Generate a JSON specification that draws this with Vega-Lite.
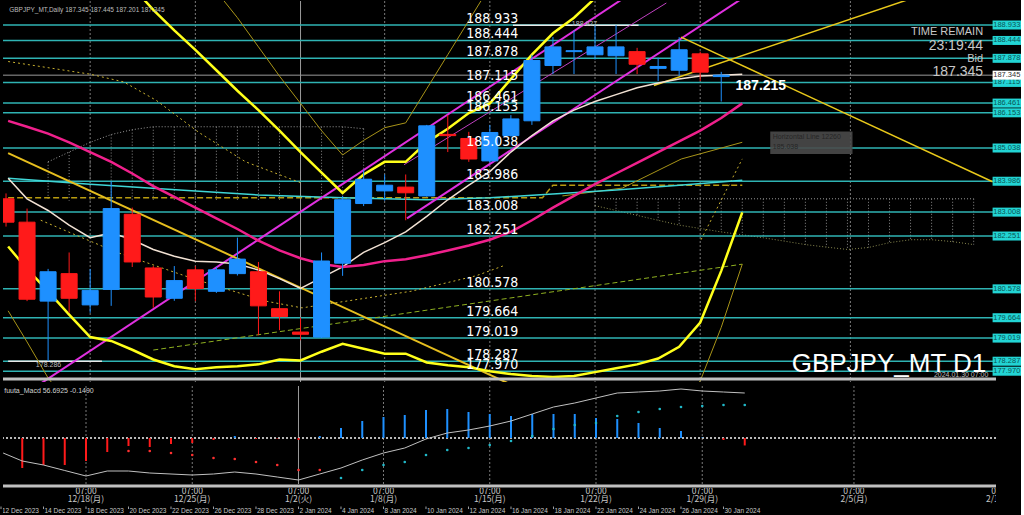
{
"$schema":"https://vega.github.io/schema/vega-lite/v6.json",
"background":"#000000",
"padding":0,
"bounds":"flush",
"spacing":4,
"config":{"view":{"stroke":null},"axis":{"labelColor":"#c8c8c8","labelFont":"Liberation Sans","labelFontSize":7.5,"domainColor":"#b0b0b0","tickColor":"#b0b0b0","tickSize":3,"labelPadding":2,"grid":false,"title":null}},
"datasets":{
"candles":[
{"i":-4,"o":183.43,"h":183.6,"l":182.55,"c":182.69},
{"i":-3,"o":182.69,"h":183.12,"l":180.19,"c":180.25},
{"i":-2,"o":180.19,"h":181.21,"l":178.29,"c":181.12},
{"i":-1,"o":181.06,"h":181.73,"l":179.82,"c":180.28},
{"i":0,"o":180.07,"h":181.21,"l":179.82,"c":180.53},
{"i":1,"o":180.56,"h":183.98,"l":180.04,"c":183.12},
{"i":2,"o":182.94,"h":183.15,"l":181.27,"c":181.43},
{"i":3,"o":181.24,"h":181.3,"l":179.98,"c":180.32},
{"i":4,"o":180.28,"h":181.3,"l":180.2,"c":180.84},
{"i":5,"o":181.18,"h":181.3,"l":180.19,"c":180.59},
{"i":6,"o":180.5,"h":181.27,"l":180.45,"c":181.18},
{"i":7,"o":181.06,"h":182.2,"l":181.0,"c":181.52},
{"i":8,"o":181.12,"h":181.43,"l":179.11,"c":180.04},
{"i":9,"o":179.95,"h":180.5,"l":179.27,"c":179.7},
{"i":10,"o":179.21,"h":179.67,"l":178.95,"c":179.14},
{"i":11,"o":179.05,"h":181.73,"l":179.02,"c":181.46},
{"i":12,"o":181.39,"h":183.52,"l":180.99,"c":183.4},
{"i":13,"o":183.28,"h":184.35,"l":183.2,"c":184.05},
{"i":14,"o":183.68,"h":184.2,"l":183.37,"c":183.86},
{"i":15,"o":183.8,"h":184.2,"l":182.75,"c":183.62},
{"i":16,"o":183.52,"h":185.77,"l":183.5,"c":185.74},
{"i":17,"o":185.47,"h":186.08,"l":184.91,"c":185.43},
{"i":18,"o":185.34,"h":185.55,"l":184.6,"c":184.69},
{"i":19,"o":184.63,"h":185.77,"l":184.58,"c":185.53},
{"i":20,"o":185.43,"h":186.08,"l":185.4,"c":185.96},
{"i":21,"o":185.9,"h":187.99,"l":185.77,"c":187.81},
{"i":22,"o":187.65,"h":188.55,"l":187.38,"c":188.24},
{"i":23,"o":188.09,"h":188.76,"l":187.38,"c":188.12},
{"i":24,"o":187.99,"h":188.927,"l":187.84,"c":188.24},
{"i":25,"o":187.96,"h":188.93,"l":187.38,"c":188.24},
{"i":26,"o":188.09,"h":188.21,"l":187.38,"c":187.69},
{"i":27,"o":187.56,"h":187.9,"l":187.16,"c":187.62},
{"i":28,"o":187.5,"h":188.55,"l":187.32,"c":188.15},
{"i":29,"o":188.02,"h":188.09,"l":187.16,"c":187.44},
{"i":30,"o":187.3,"h":187.45,"l":186.51,"c":187.345}
],
"levels":[
{"p":188.933,"t":"188.933"},{"p":188.444,"t":"188.444"},{"p":187.878,"t":"187.878"},{"p":187.115,"t":"187.115"},{"p":186.461,"t":"186.461"},{"p":186.153,"t":"186.153"},{"p":185.038,"t":"185.038"},{"p":183.986,"t":"183.986"},{"p":183.008,"t":"183.008"},{"p":182.251,"t":"182.251"},{"p":180.578,"t":"180.578"},{"p":179.664,"t":"179.664"},{"p":179.019,"t":"179.019"},{"p":178.287,"t":"178.287"},{"p":177.97,"t":"177.970"}
],
"seps":[{"i":0},{"i":5},{"i":10},{"i":14},{"i":19},{"i":24},{"i":29},{"i":36.14}],
"cloud":[
{"i":-2,"top":184.601,"bot":183.368},{"i":-1,"top":184.91,"bot":183.368},{"i":0,"top":185.218,"bot":183.368},{"i":1,"top":185.465,"bot":183.368},{"i":2,"top":185.619,"bot":183.368},{"i":3,"top":185.711,"bot":183.368},{"i":4,"top":185.711,"bot":183.368},{"i":5,"top":185.711,"bot":183.368},{"i":6,"top":185.711,"bot":183.368},{"i":7,"top":185.711,"bot":183.368},{"i":8,"top":185.711,"bot":183.368},{"i":9,"top":185.711,"bot":183.368},{"i":10,"top":185.711,"bot":183.368},{"i":11,"top":185.711,"bot":183.368},{"i":12,"top":185.711,"bot":183.368},{"i":13,"top":185.65,"bot":183.368}
],
"cloud2":[
{"i":24,"top":183.43,"bot":183.214},{"i":25,"top":183.43,"bot":183.06},{"i":26,"top":183.43,"bot":182.905},{"i":27,"top":183.43,"bot":182.75},{"i":28,"top":183.43,"bot":182.597},{"i":29,"top":183.43,"bot":182.49},{"i":30,"top":183.43,"bot":182.381},{"i":31,"top":183.43,"bot":182.29},{"i":32,"top":183.43,"bot":182.196},{"i":33,"top":183.43,"bot":182.09},{"i":34,"top":183.43,"bot":181.98},{"i":35,"top":183.43,"bot":181.9},{"i":36,"top":183.43,"bot":181.826},{"i":37,"top":183.43,"bot":181.888},{"i":38,"top":183.43,"bot":182.042},{"i":39,"top":183.43,"bot":182.134},{"i":40,"top":183.43,"bot":182.134},{"i":41,"top":183.43,"bot":182.073},{"i":42,"top":183.43,"bot":181.98}
],
"lines":[
{"s":"pink","i":-3.9,"p":185.896},{"s":"pink","i":-3,"p":185.711},{"s":"pink","i":-2,"p":185.496},{"s":"pink","i":-1,"p":185.218},{"s":"pink","i":0,"p":184.91},{"s":"pink","i":1,"p":184.601},{"s":"pink","i":2,"p":184.231},{"s":"pink","i":3,"p":183.83},{"s":"pink","i":4,"p":183.491},{"s":"pink","i":5,"p":183.152},{"s":"pink","i":6,"p":182.813},{"s":"pink","i":7,"p":182.474},{"s":"pink","i":8,"p":182.104},{"s":"pink","i":9,"p":181.795},{"s":"pink","i":10,"p":181.549},{"s":"pink","i":11,"p":181.364},{"s":"pink","i":12,"p":181.271},{"s":"pink","i":13,"p":181.333},{"s":"pink","i":14,"p":181.456},{"s":"pink","i":15,"p":181.518},{"s":"pink","i":16,"p":181.641},{"s":"pink","i":17,"p":181.795},{"s":"pink","i":18,"p":181.949},{"s":"pink","i":19,"p":182.134},{"s":"pink","i":20,"p":182.381},{"s":"pink","i":21,"p":182.751},{"s":"pink","i":22,"p":183.152},{"s":"pink","i":23,"p":183.522},{"s":"pink","i":24,"p":183.892},{"s":"pink","i":25,"p":184.231},{"s":"pink","i":26,"p":184.57},{"s":"pink","i":27,"p":184.91},{"s":"pink","i":28,"p":185.249},{"s":"pink","i":29,"p":185.588},{"s":"pink","i":30,"p":185.989},{"s":"pink","i":31,"p":186.451},
{"s":"white","i":-3.9,"p":184.077},{"s":"white","i":-3,"p":183.43},{"s":"white","i":-2,"p":183.06},{"s":"white","i":-1,"p":182.597},{"s":"white","i":0,"p":182.196},{"s":"white","i":1,"p":182.35},{"s":"white","i":2,"p":182.134},{"s":"white","i":3,"p":181.826},{"s":"white","i":4,"p":181.61},{"s":"white","i":5,"p":181.456},{"s":"white","i":6,"p":181.425},{"s":"white","i":7,"p":181.364},{"s":"white","i":8,"p":181.178},{"s":"white","i":9,"p":180.901},{"s":"white","i":10,"p":180.593},{"s":"white","i":11,"p":180.932},{"s":"white","i":12,"p":181.271},{"s":"white","i":13,"p":181.734},{"s":"white","i":14,"p":182.042},{"s":"white","i":15,"p":182.381},{"s":"white","i":16,"p":182.874},{"s":"white","i":17,"p":183.399},{"s":"white","i":18,"p":183.861},{"s":"white","i":19,"p":184.293},{"s":"white","i":20,"p":184.91},{"s":"white","i":21,"p":185.434},{"s":"white","i":22,"p":185.896},{"s":"white","i":23,"p":186.236},{"s":"white","i":24,"p":186.513},{"s":"white","i":25,"p":186.729},{"s":"white","i":26,"p":186.945},{"s":"white","i":27,"p":187.099},{"s":"white","i":28,"p":187.222},{"s":"white","i":29,"p":187.315},{"s":"white","i":30,"p":187.346},{"s":"white","i":31,"p":187.377},
{"s":"bbU","i":1,"p":190.768},{"s":"bbU","i":2,"p":190.152},{"s":"bbU","i":3,"p":189.412},{"s":"bbU","i":4,"p":188.764},{"s":"bbU","i":5,"p":188.147},{"s":"bbU","i":6,"p":187.5},{"s":"bbU","i":7,"p":186.852},{"s":"bbU","i":8,"p":186.236},{"s":"bbU","i":9,"p":185.588},{"s":"bbU","i":10,"p":184.91},{"s":"bbU","i":11,"p":184.262},{"s":"bbU","i":12,"p":183.615},{"s":"bbU","i":13,"p":184.2},{"s":"bbU","i":14,"p":184.601},{"s":"bbU","i":15,"p":184.601},{"s":"bbU","i":16,"p":185.218},{"s":"bbU","i":17,"p":185.65},{"s":"bbU","i":18,"p":186.143},{"s":"bbU","i":19,"p":186.451},{"s":"bbU","i":20,"p":187.222},{"s":"bbU","i":21,"p":187.993},{"s":"bbU","i":22,"p":188.672},{"s":"bbU","i":23,"p":189.165},{"s":"bbU","i":24,"p":189.782},{"s":"bbU","i":25,"p":190.3},
{"s":"bbL","i":-3.9,"p":181.918},{"s":"bbL","i":-3,"p":181.209},{"s":"bbL","i":-2,"p":180.5},{"s":"bbL","i":-1,"p":179.76},{"s":"bbL","i":0,"p":179.051},{"s":"bbL","i":1,"p":178.928},{"s":"bbL","i":2,"p":178.65},{"s":"bbL","i":3,"p":178.342},{"s":"bbL","i":4,"p":178.126},{"s":"bbL","i":5,"p":178.033},{"s":"bbL","i":6,"p":178.095},{"s":"bbL","i":7,"p":178.126},{"s":"bbL","i":8,"p":178.187},{"s":"bbL","i":9,"p":178.342},{"s":"bbL","i":10,"p":178.311},{"s":"bbL","i":11,"p":178.588},{"s":"bbL","i":12,"p":178.835},{"s":"bbL","i":13,"p":178.681},{"s":"bbL","i":14,"p":178.527},{"s":"bbL","i":15,"p":178.527},{"s":"bbL","i":16,"p":178.249},{"s":"bbL","i":17,"p":178.157},{"s":"bbL","i":18,"p":178.095},{"s":"bbL","i":19,"p":177.972},{"s":"bbL","i":20,"p":177.879},{"s":"bbL","i":21,"p":177.817},{"s":"bbL","i":22,"p":177.787},{"s":"bbL","i":23,"p":177.817},{"s":"bbL","i":24,"p":177.941},{"s":"bbL","i":25,"p":178.064},{"s":"bbL","i":26,"p":178.187},{"s":"bbL","i":27,"p":178.372},{"s":"bbL","i":28,"p":178.742},{"s":"bbL","i":29,"p":179.513},{"s":"bbL","i":30,"p":181.148},{"s":"bbL","i":31,"p":182.998},
{"s":"olU","i":6,"p":189.998},{"s":"olU","i":7,"p":189.165},{"s":"olU","i":8,"p":188.24},{"s":"olU","i":9,"p":187.315},{"s":"olU","i":10,"p":186.451},{"s":"olU","i":11,"p":185.588},{"s":"olU","i":12,"p":184.817},{"s":"olU","i":13,"p":185.28},{"s":"olU","i":14,"p":185.681},{"s":"olU","i":15,"p":185.835},{"s":"olU","i":16,"p":186.914},{"s":"olU","i":17,"p":187.993},{"s":"olU","i":18,"p":189.072},{"s":"olU","i":19,"p":190.152},
{"s":"olL","i":-3.9,"p":179.883},{"s":"olL","i":-3,"p":178.897},{"s":"olL","i":-2,"p":177.756},{"s":"olL","i":-1,"p":176.9},{"s":"olL","i":27,"p":176.27},{"s":"olL","i":28,"p":176.9},{"s":"olL","i":29,"p":177.66},{"s":"olL","i":30,"p":179.36},{"s":"olL","i":31,"p":181.36},
{"s":"ol2","i":22.45,"p":183.52},{"s":"ol2","i":25.3,"p":183.77},{"s":"ol2","i":28.1,"p":184.69},{"s":"ol2","i":31,"p":185.22},
{"s":"teal","i":-3.9,"p":184.077},{"s":"teal","i":0,"p":183.892},{"s":"teal","i":5,"p":183.676},{"s":"teal","i":8,"p":183.553},{"s":"teal","i":12,"p":183.46},{"s":"teal","i":16,"p":183.399},{"s":"teal","i":19,"p":183.46},{"s":"teal","i":22,"p":183.584},{"s":"teal","i":25,"p":183.707},{"s":"teal","i":28,"p":183.861},{"s":"teal","i":31,"p":184.016},
{"s":"tl1","i":-3.9,"p":184.879},{"s":"tl1","i":20,"p":177.55},
{"s":"tl2","i":26.8,"p":187.02},{"s":"tl2","i":42.9,"p":190.64},
{"s":"tl3","i":28.09,"p":188.548},{"s":"tl3","i":42.9,"p":183.97},
{"s":"m1","i":-2.5,"p":177.514},{"s":"m1","i":25.5,"p":189.843},
{"s":"m2","i":15.06,"p":182.81},{"s":"m2","i":31,"p":189.776},
{"s":"m3","i":14.92,"p":184.509},{"s":"m3","i":27.39,"p":189.63},
{"s":"dash1","i":-3.9,"p":183.46},{"s":"dash1","i":21.5,"p":183.46},{"s":"dash1","i":22,"p":183.861},{"s":"dash1","i":31,"p":183.861},
{"s":"dash2","i":3,"p":178.64},{"s":"dash2","i":31,"p":181.36},
{"s":"dot1","i":-3.9,"p":187.777},{"s":"dot1","i":0,"p":187.376},{"s":"dot1","i":1.6,"p":187.13},{"s":"dot1","i":3.15,"p":186.544},{"s":"dot1","i":5.18,"p":185.526},{"s":"dot1","i":7.39,"p":184.601},{"s":"dot1","i":10.07,"p":183.923},
{"s":"dot2","i":-2.35,"p":182.751},{"s":"dot2","i":1.27,"p":181.734},{"s":"dot2","i":4.89,"p":180.901},{"s":"dot2","i":8.33,"p":180.192},{"s":"dot2","i":10.07,"p":179.976},{"s":"dot2","i":15.25,"p":180.501},{"s":"dot2","i":18.35,"p":180.993},{"s":"dot2","i":19.62,"p":181.302},
{"s":"dot3","i":29.04,"p":182.135},{"s":"dot3","i":31,"p":184.694}
],
"macd":[
{"i":-3.9,"w":-0.3},
{"i":-3,"h":-0.6,"w":-0.46},{"i":-2,"h":-0.54,"w":-0.54},{"i":-1,"h":-0.54,"w":-0.65},{"i":0,"h":-0.46,"w":-0.76},{"i":1,"h":-0.28,"w":-0.66},
{"i":2,"h":-0.16,"s":-0.26,"w":-0.66,"sd":"dn"},{"i":3,"h":-0.18,"s":-0.26,"w":-0.7,"sd":"dn"},{"i":4,"h":-0.12,"s":-0.3,"w":-0.72,"sd":"dn"},{"i":5,"h":-0.1,"s":-0.34,"w":-0.74,"sd":"dn"},{"i":6,"h":-0.04,"s":-0.4,"w":-0.72,"sd":"dn"},{"i":7,"h":0.04,"s":-0.42,"w":-0.68,"sd":"dn"},{"i":8,"h":-0.02,"s":-0.48,"w":-0.72,"sd":"dn"},{"i":9,"h":-0.01,"s":-0.54,"w":-0.78,"sd":"dn"},{"i":10,"h":-0.04,"s":-0.64,"w":-0.84,"sd":"dn"},{"i":11,"h":0.04,"s":-0.64,"w":-0.72,"sd":"dn"},
{"i":12,"h":0.2,"s":-0.8,"w":-0.6,"sd":"up"},{"i":13,"h":0.34,"s":-0.64,"w":-0.44,"sd":"up"},{"i":14,"h":0.42,"s":-0.54,"w":-0.3,"sd":"up"},{"i":15,"h":0.46,"s":-0.48,"w":-0.2,"sd":"up"},{"i":16,"h":0.56,"s":-0.34,"w":-0.02,"sd":"up"},{"i":17,"h":0.58,"s":-0.24,"w":0.1,"sd":"up"},{"i":18,"h":0.52,"s":-0.2,"w":0.16,"sd":"up"},{"i":19,"h":0.48,"s":-0.14,"w":0.24,"sd":"up"},{"i":20,"h":0.44,"s":-0.06,"w":0.34,"sd":"up"},{"i":21,"h":0.48,"s":0.04,"w":0.48,"sd":"up"},{"i":22,"h":0.48,"s":0.18,"w":0.62,"sd":"up"},{"i":23,"h":0.48,"s":0.26,"w":0.7,"sd":"up"},{"i":24,"h":0.4,"s":0.3,"w":0.8,"sd":"up"},{"i":25,"h":0.38,"s":0.44,"w":0.9,"sd":"up"},{"i":26,"h":0.3,"s":0.52,"w":0.92,"sd":"up"},{"i":27,"h":0.2,"s":0.58,"w":0.94,"sd":"up"},{"i":28,"h":0.14,"s":0.62,"w":0.98,"sd":"up"},{"i":29,"h":0.01,"s":0.64,"w":0.94,"sd":"up"},{"i":30,"h":-0.04,"s":0.66,"w":0.92,"sd":"up"},{"i":31,"h":-0.149,"s":0.66,"w":0.9,"sd":"up"}
],
"tl":[{"i":0,"d":"12/18(月)"},{"i":5,"d":"12/25(月)"},{"i":10,"d":"1/2(火)"},{"i":14,"d":"1/8(月)"},{"i":19,"d":"1/15(月)"},{"i":24,"d":"1/22(月)"},{"i":29,"d":"1/29(月)"},{"i":36.14,"d":"2/5(月)"},{"i":43.1,"d":"2/12(月)"}],
"dl":[{"i":-4,"d":"12 Dec 2023"},{"i":-2,"d":"14 Dec 2023"},{"i":0,"d":"18 Dec 2023"},{"i":2,"d":"20 Dec 2023"},{"i":4,"d":"22 Dec 2023"},{"i":6,"d":"26 Dec 2023"},{"i":8,"d":"28 Dec 2023"},{"i":10,"d":"2 Jan 2024"},{"i":12,"d":"4 Jan 2024"},{"i":14,"d":"8 Jan 2024"},{"i":16,"d":"10 Jan 2024"},{"i":18,"d":"12 Jan 2024"},{"i":20,"d":"16 Jan 2024"},{"i":22,"d":"18 Jan 2024"},{"i":24,"d":"22 Jan 2024"},{"i":26,"d":"24 Jan 2024"},{"i":28,"d":"26 Jan 2024"},{"i":30,"d":"30 Jan 2024"}]
},
"vconcat":[
{
"width":993,"height":381,
"layer":[
{"data":{"name":"cloud"},"mark":{"type":"rule","color":"#8a8a8a","strokeDash":[1,2],"strokeWidth":1},"encoding":{"x":{"field":"i","type":"quantitative","scale":{"domain":[-3.906,42.824],"nice":false,"zero":false},"axis":null},"y":{"field":"top","type":"quantitative","scale":{"domain":[177.787,189.535],"nice":false,"zero":false},"axis":null},"y2":{"field":"bot"}}},
{"data":{"name":"cloud"},"mark":{"type":"line","color":"#9a9a9a","strokeDash":[1,2],"strokeWidth":1},"encoding":{"x":{"field":"i","type":"quantitative","scale":{"domain":[-3.906,42.824],"nice":false,"zero":false},"axis":null},"y":{"field":"top","type":"quantitative","scale":{"domain":[177.787,189.535],"nice":false,"zero":false},"axis":null}}},
{"data":{"name":"cloud2"},"mark":{"type":"rule","color":"#8a8a8a","strokeDash":[1,2],"strokeWidth":1},"encoding":{"x":{"field":"i","type":"quantitative","scale":{"domain":[-3.906,42.824],"nice":false,"zero":false},"axis":null},"y":{"field":"top","type":"quantitative","scale":{"domain":[177.787,189.535],"nice":false,"zero":false},"axis":null},"y2":{"field":"bot"}}},
{"data":{"name":"cloud2"},"mark":{"type":"line","color":"#9a9a9a","strokeDash":[1,2],"strokeWidth":1},"encoding":{"x":{"field":"i","type":"quantitative","scale":{"domain":[-3.906,42.824],"nice":false,"zero":false},"axis":null},"y":{"field":"top","type":"quantitative","scale":{"domain":[177.787,189.535],"nice":false,"zero":false},"axis":null}}},
{"data":{"name":"cloud2"},"mark":{"type":"line","color":"#8a8a50","strokeDash":[1,2],"strokeWidth":1},"encoding":{"x":{"field":"i","type":"quantitative","scale":{"domain":[-3.906,42.824],"nice":false,"zero":false},"axis":null},"y":{"field":"bot","type":"quantitative","scale":{"domain":[177.787,189.535],"nice":false,"zero":false},"axis":null}}},
{"data":{"name":"seps"},"transform":[{"filter":"datum.i !== 10"}],"mark":{"type":"rule","color":"#7a7a7a","strokeDash":[2,2],"strokeWidth":1},"encoding":{"x":{"field":"i","type":"quantitative","scale":{"domain":[-3.906,42.824],"nice":false,"zero":false},"axis":null}}},
{"data":{"name":"seps"},"transform":[{"filter":"datum.i === 10"}],"mark":{"type":"rule","color":"#9a9a9a","strokeWidth":1},"encoding":{"x":{"field":"i","type":"quantitative","scale":{"domain":[-3.906,42.824],"nice":false,"zero":false},"axis":null}}},
{"data":{"name":"levels"},"mark":{"type":"rule","color":"#2fb3b3","strokeWidth":1.5},"encoding":{"y":{"field":"p","type":"quantitative","scale":{"domain":[177.787,189.535],"nice":false,"zero":false},"axis":{"orient":"right","values":[189.35,188.67,187.99,187.31,186.63,185.95,185.27,184.59,183.91,183.25,182.57,181.89,181.21,180.53,179.85,179.17,178.49,177.83],"format":".3f"}}}},
{"data":{"values":[{"p":187.345}]},"mark":{"type":"rule","color":"#9a9a9a","strokeWidth":1},"encoding":{"y":{"field":"p","type":"quantitative","scale":{"domain":[177.787,189.535],"nice":false,"zero":false},"axis":null}}},
{"data":{"values":[{"i":20.1,"i2":26.07,"p":188.927},{"i":-3.9,"i2":0.56,"p":178.286}]},"mark":{"type":"rule","color":"#e8e8e8","strokeWidth":1.5},"encoding":{"x":{"field":"i","type":"quantitative","scale":{"domain":[-3.906,42.824],"nice":false,"zero":false},"axis":null},"x2":{"field":"i2"},"y":{"field":"p","type":"quantitative","scale":{"domain":[177.787,189.535],"nice":false,"zero":false},"axis":null}}},
{"data":{"name":"lines"},"transform":[{"filter":{"field":"s","oneOf":["dot1","dot2","dot3"]}}],"mark":{"type":"line","color":"#c8b030","strokeDash":[2,3],"strokeWidth":1,"clip":true},"encoding":{"x":{"field":"i","type":"quantitative","scale":{"domain":[-3.906,42.824],"nice":false,"zero":false},"axis":null},"y":{"field":"p","type":"quantitative","scale":{"domain":[177.787,189.535],"nice":false,"zero":false},"axis":null},"detail":{"field":"s"}}},
{"data":{"name":"lines"},"transform":[{"filter":{"field":"s","oneOf":["dash1"]}}],"mark":{"type":"line","color":"#b89c10","strokeDash":[6,3],"strokeWidth":1.5,"clip":true},"encoding":{"x":{"field":"i","type":"quantitative","scale":{"domain":[-3.906,42.824],"nice":false,"zero":false},"axis":null},"y":{"field":"p","type":"quantitative","scale":{"domain":[177.787,189.535],"nice":false,"zero":false},"axis":null},"detail":{"field":"s"}}},
{"data":{"name":"lines"},"transform":[{"filter":{"field":"s","oneOf":["dash2"]}}],"mark":{"type":"line","color":"#8fb020","strokeDash":[5,3],"strokeWidth":1,"clip":true},"encoding":{"x":{"field":"i","type":"quantitative","scale":{"domain":[-3.906,42.824],"nice":false,"zero":false},"axis":null},"y":{"field":"p","type":"quantitative","scale":{"domain":[177.787,189.535],"nice":false,"zero":false},"axis":null},"detail":{"field":"s"}}},
{"data":{"name":"lines"},"transform":[{"filter":{"field":"s","oneOf":["olU","olL","ol2"]}}],"mark":{"type":"line","color":"#a89418","strokeWidth":1,"clip":true},"encoding":{"x":{"field":"i","type":"quantitative","scale":{"domain":[-3.906,42.824],"nice":false,"zero":false},"axis":null},"y":{"field":"p","type":"quantitative","scale":{"domain":[177.787,189.535],"nice":false,"zero":false},"axis":null},"detail":{"field":"s"}}},
{"data":{"name":"lines"},"transform":[{"filter":{"field":"s","oneOf":["teal"]}}],"mark":{"type":"line","color":"#3fd6d6","strokeWidth":1.5,"clip":true},"encoding":{"x":{"field":"i","type":"quantitative","scale":{"domain":[-3.906,42.824],"nice":false,"zero":false},"axis":null},"y":{"field":"p","type":"quantitative","scale":{"domain":[177.787,189.535],"nice":false,"zero":false},"axis":null},"detail":{"field":"s"}}},
{"data":{"name":"lines"},"transform":[{"filter":{"field":"s","oneOf":["m3"]}}],"mark":{"type":"line","color":"#c040c0","strokeWidth":1,"clip":true},"encoding":{"x":{"field":"i","type":"quantitative","scale":{"domain":[-3.906,42.824],"nice":false,"zero":false},"axis":null},"y":{"field":"p","type":"quantitative","scale":{"domain":[177.787,189.535],"nice":false,"zero":false},"axis":null},"detail":{"field":"s"}}},
{"data":{"name":"lines"},"transform":[{"filter":{"field":"s","oneOf":["m1","m2"]}}],"mark":{"type":"line","color":"#e030e0","strokeWidth":2,"clip":true},"encoding":{"x":{"field":"i","type":"quantitative","scale":{"domain":[-3.906,42.824],"nice":false,"zero":false},"axis":null},"y":{"field":"p","type":"quantitative","scale":{"domain":[177.787,189.535],"nice":false,"zero":false},"axis":null},"detail":{"field":"s"}}},
{"data":{"name":"lines"},"transform":[{"filter":{"field":"s","oneOf":["tl1"]}}],"mark":{"type":"line","color":"#e6be1e","strokeWidth":2,"clip":true},"encoding":{"x":{"field":"i","type":"quantitative","scale":{"domain":[-3.906,42.824],"nice":false,"zero":false},"axis":null},"y":{"field":"p","type":"quantitative","scale":{"domain":[177.787,189.535],"nice":false,"zero":false},"axis":null},"detail":{"field":"s"}}},
{"data":{"name":"lines"},"transform":[{"filter":{"field":"s","oneOf":["tl2","tl3"]}}],"mark":{"type":"line","color":"#e8c81a","strokeWidth":1.5,"clip":true},"encoding":{"x":{"field":"i","type":"quantitative","scale":{"domain":[-3.906,42.824],"nice":false,"zero":false},"axis":null},"y":{"field":"p","type":"quantitative","scale":{"domain":[177.787,189.535],"nice":false,"zero":false},"axis":null},"detail":{"field":"s"}}},
{"data":{"name":"lines"},"transform":[{"filter":{"field":"s","oneOf":["bbU","bbL"]}}],"mark":{"type":"line","color":"#ffff1a","strokeWidth":2.5,"clip":true},"encoding":{"x":{"field":"i","type":"quantitative","scale":{"domain":[-3.906,42.824],"nice":false,"zero":false},"axis":null},"y":{"field":"p","type":"quantitative","scale":{"domain":[177.787,189.535],"nice":false,"zero":false},"axis":null},"detail":{"field":"s"}}},
{"data":{"name":"lines"},"transform":[{"filter":{"field":"s","oneOf":["white"]}}],"mark":{"type":"line","color":"#f2e2d4","strokeWidth":1.5,"clip":true},"encoding":{"x":{"field":"i","type":"quantitative","scale":{"domain":[-3.906,42.824],"nice":false,"zero":false},"axis":null},"y":{"field":"p","type":"quantitative","scale":{"domain":[177.787,189.535],"nice":false,"zero":false},"axis":null},"detail":{"field":"s"}}},
{"data":{"name":"lines"},"transform":[{"filter":{"field":"s","oneOf":["pink"]}}],"mark":{"type":"line","color":"#f0208c","strokeWidth":2.5,"clip":true},"encoding":{"x":{"field":"i","type":"quantitative","scale":{"domain":[-3.906,42.824],"nice":false,"zero":false},"axis":null},"y":{"field":"p","type":"quantitative","scale":{"domain":[177.787,189.535],"nice":false,"zero":false},"axis":null},"detail":{"field":"s"}}},
{"data":{"name":"candles"},"mark":{"type":"rule","strokeWidth":1,"clip":true},"encoding":{"x":{"field":"i","type":"quantitative","scale":{"domain":[-3.906,42.824],"nice":false,"zero":false},"axis":null},"y":{"field":"l","type":"quantitative","scale":{"domain":[177.787,189.535],"nice":false,"zero":false},"axis":null},"y2":{"field":"h"},"color":{"condition":{"test":"datum.c >= datum.o","value":"#1e90ff"},"value":"#ff1a1a"}}},
{"data":{"name":"candles"},"mark":{"type":"bar","size":16,"strokeWidth":1,"clip":true},"encoding":{"x":{"field":"i","type":"quantitative","scale":{"domain":[-3.906,42.824],"nice":false,"zero":false},"axis":null},"y":{"field":"o","type":"quantitative","scale":{"domain":[177.787,189.535],"nice":false,"zero":false},"axis":null},"y2":{"field":"c"},"color":{"condition":{"test":"datum.c >= datum.o","value":"#1e90ff"},"value":"#ff1a1a"},"stroke":{"condition":{"test":"datum.c >= datum.o","value":"#1e90ff"},"value":"#ff1a1a"}}},
{"data":{"name":"levels"},"mark":{"type":"text","align":"left","baseline":"alphabetic","dy":-2,"font":"Liberation Sans Narrow, DejaVu Sans Condensed, sans-serif","fontSize":14,"color":"#ffffff"},"encoding":{"x":{"datum":17.88,"type":"quantitative","scale":{"domain":[-3.906,42.824],"nice":false,"zero":false},"axis":null},"y":{"field":"p","type":"quantitative","scale":{"domain":[177.787,189.535],"nice":false,"zero":false},"axis":null},"text":{"field":"t"}}},
{"data":{"values":[{"i":-3.85,"p":189.535,"t":"GBPJPY_MT,Daily  187.345 187.445 187.201 187.345"}]},"mark":{"type":"text","align":"left","baseline":"top","dy":1,"font":"Liberation Sans","fontSize":6.5,"color":"#bdbdbd"},"encoding":{"x":{"field":"i","type":"quantitative","scale":{"domain":[-3.906,42.824],"nice":false,"zero":false},"axis":null},"y":{"field":"p","type":"quantitative","scale":{"domain":[177.787,189.535],"nice":false,"zero":false},"axis":null},"text":{"field":"t"}}},
{"data":{"values":[{"i":42.45,"p":188.7,"t":"TIME REMAIN"},{"i":42.45,"p":187.87,"t":"Bid"}]},"mark":{"type":"text","align":"right","baseline":"middle","font":"Liberation Sans","fontSize":11,"color":"#c8c8c8"},"encoding":{"x":{"field":"i","type":"quantitative","scale":{"domain":[-3.906,42.824],"nice":false,"zero":false},"axis":null},"y":{"field":"p","type":"quantitative","scale":{"domain":[177.787,189.535],"nice":false,"zero":false},"axis":null},"text":{"field":"t"}}},
{"data":{"values":[{"i":42.45,"p":188.27,"t":"23:19:44"},{"i":42.45,"p":187.44,"t":"187.345"}]},"mark":{"type":"text","align":"right","baseline":"middle","font":"Liberation Sans","fontSize":14,"color":"#c8c8c8"},"encoding":{"x":{"field":"i","type":"quantitative","scale":{"domain":[-3.906,42.824],"nice":false,"zero":false},"axis":null},"y":{"field":"p","type":"quantitative","scale":{"domain":[177.787,189.535],"nice":false,"zero":false},"axis":null},"text":{"field":"t"}}},
{"data":{"values":[{"i":42.6,"p":177.95,"t":"GBPJPY_MT D1"}]},"mark":{"type":"text","align":"right","baseline":"alphabetic","font":"Liberation Sans","fontSize":26,"color":"#ffffff"},"encoding":{"x":{"field":"i","type":"quantitative","scale":{"domain":[-3.906,42.824],"nice":false,"zero":false},"axis":null},"y":{"field":"p","type":"quantitative","scale":{"domain":[177.787,189.535],"nice":false,"zero":false},"axis":null},"text":{"field":"t"}}},
{"data":{"values":[{"i":42.7,"p":177.84,"t":"2024.01.30 07:00"}]},"mark":{"type":"text","align":"right","baseline":"middle","font":"Liberation Sans","fontSize":7,"color":"#bdbdbd"},"encoding":{"x":{"field":"i","type":"quantitative","scale":{"domain":[-3.906,42.824],"nice":false,"zero":false},"axis":null},"y":{"field":"p","type":"quantitative","scale":{"domain":[177.787,189.535],"nice":false,"zero":false},"axis":null},"text":{"field":"t"}}},
{"data":{"values":[{"i":30.68,"p":187.0,"t":"187.215"}]},"mark":{"type":"text","align":"left","baseline":"middle","font":"Liberation Sans","fontSize":14,"fontWeight":"bold","color":"#ffffff"},"encoding":{"x":{"field":"i","type":"quantitative","scale":{"domain":[-3.906,42.824],"nice":false,"zero":false},"axis":null},"y":{"field":"p","type":"quantitative","scale":{"domain":[177.787,189.535],"nice":false,"zero":false},"axis":null},"text":{"field":"t"}}},
{"data":{"values":[{"i":23.5,"p":188.98,"t":"188.927"},{"i":-1.98,"p":178.16,"t":"178.286"}]},"mark":{"type":"text","align":"center","baseline":"middle","font":"Liberation Sans","fontSize":7,"color":"#bdbdbd"},"encoding":{"x":{"field":"i","type":"quantitative","scale":{"domain":[-3.906,42.824],"nice":false,"zero":false},"axis":null},"y":{"field":"p","type":"quantitative","scale":{"domain":[177.787,189.535],"nice":false,"zero":false},"axis":null},"text":{"field":"t"}}},
{"data":{"values":[{"i":32.33,"i2":36.24,"p":185.557,"p2":184.848}]},"mark":{"type":"rect","color":"#4a4a4a","opacity":0.9},"encoding":{"x":{"field":"i","type":"quantitative","scale":{"domain":[-3.906,42.824],"nice":false,"zero":false},"axis":null},"x2":{"field":"i2"},"y":{"field":"p","type":"quantitative","scale":{"domain":[177.787,189.535],"nice":false,"zero":false},"axis":null},"y2":{"field":"p2"}}},
{"data":{"values":[{"i":32.45,"p":185.4,"t":"Horizontal Line 12260"},{"i":32.45,"p":185.08,"t":"185.038"}]},"mark":{"type":"text","align":"left","baseline":"middle","font":"Liberation Sans","fontSize":7,"color":"#262626"},"encoding":{"x":{"field":"i","type":"quantitative","scale":{"domain":[-3.906,42.824],"nice":false,"zero":false},"axis":null},"y":{"field":"p","type":"quantitative","scale":{"domain":[177.787,189.535],"nice":false,"zero":false},"axis":null},"text":{"field":"t"}}},
{"data":{"name":"levels"},"mark":{"type":"bar","size":9,"color":"#22d4d4"},"encoding":{"x":{"datum":42.9,"type":"quantitative","scale":{"domain":[-3.906,42.824],"nice":false,"zero":false},"axis":null},"x2":{"datum":44.25},"y":{"field":"p","type":"quantitative","scale":{"domain":[177.787,189.535],"nice":false,"zero":false},"axis":null}}},
{"data":{"name":"levels"},"mark":{"type":"text","align":"center","baseline":"middle","font":"Liberation Sans","fontSize":7.5,"color":"#0a5454"},"encoding":{"x":{"datum":43.575,"type":"quantitative","scale":{"domain":[-3.906,42.824],"nice":false,"zero":false},"axis":null},"y":{"field":"p","type":"quantitative","scale":{"domain":[177.787,189.535],"nice":false,"zero":false},"axis":null},"text":{"field":"t"}}},
{"data":{"values":[{"p":187.345,"t":"187.345"}]},"mark":{"type":"bar","size":9,"color":"#ffffff"},"encoding":{"x":{"datum":42.9,"type":"quantitative","scale":{"domain":[-3.906,42.824],"nice":false,"zero":false},"axis":null},"x2":{"datum":44.25},"y":{"field":"p","type":"quantitative","scale":{"domain":[177.787,189.535],"nice":false,"zero":false},"axis":null}}},
{"data":{"values":[{"p":187.345,"t":"187.345"}]},"mark":{"type":"text","align":"center","baseline":"middle","font":"Liberation Sans","fontSize":7.5,"color":"#333333"},"encoding":{"x":{"datum":43.575,"type":"quantitative","scale":{"domain":[-3.906,42.824],"nice":false,"zero":false},"axis":null},"y":{"field":"p","type":"quantitative","scale":{"domain":[177.787,189.535],"nice":false,"zero":false},"axis":null},"text":{"field":"t"}}},
{"data":{"values":[{"p":177.787}]},"mark":{"type":"rule","color":"#c0c0c0","strokeWidth":3,"yOffset":2},"encoding":{"y":{"field":"p","type":"quantitative","scale":{"domain":[177.787,189.535],"nice":false,"zero":false},"axis":null}}}
]
},
{
"width":993,"height":98,
"layer":[
{"data":{"name":"seps"},"transform":[{"filter":"datum.i !== 10"}],"mark":{"type":"rule","color":"#7a7a7a","strokeDash":[2,2],"strokeWidth":1},"encoding":{"x":{"field":"i","type":"quantitative","scale":{"domain":[-3.906,42.824],"nice":false,"zero":false},"axis":null}}},
{"data":{"name":"seps"},"transform":[{"filter":"datum.i === 10"}],"mark":{"type":"rule","color":"#9a9a9a","strokeWidth":1},"encoding":{"x":{"field":"i","type":"quantitative","scale":{"domain":[-3.906,42.824],"nice":false,"zero":false},"axis":null}}},
{"data":{"values":[{"v":0}]},"mark":{"type":"rule","color":"#b8b8b8","strokeDash":[2,2],"strokeWidth":2},"encoding":{"y":{"field":"v","type":"quantitative","scale":{"domain":[-0.92,1.04],"nice":false,"zero":false},"axis":{"orient":"right","values":[0.98,0,-0.84],"labelExpr":"datum.value > 0.5 ? '60.7354' : (datum.value < -0.5 ? '41.2476' : '0')"}}}},
{"data":{"name":"macd"},"transform":[{"filter":"isValid(datum.h)"}],"mark":{"type":"rule","strokeWidth":2},"encoding":{"x":{"field":"i","type":"quantitative","scale":{"domain":[-3.906,42.824],"nice":false,"zero":false},"axis":null},"y":{"field":"h","type":"quantitative","scale":{"domain":[-0.92,1.04],"nice":false,"zero":false},"axis":null},"y2":{"datum":0},"color":{"condition":{"test":"datum.h >= 0","value":"#1e90ff"},"value":"#ff1a1a"}}},
{"data":{"name":"macd"},"transform":[{"filter":"isValid(datum.w)"}],"mark":{"type":"line","color":"#c0c0c0","strokeWidth":1,"clip":true},"encoding":{"x":{"field":"i","type":"quantitative","scale":{"domain":[-3.906,42.824],"nice":false,"zero":false},"axis":null},"y":{"field":"w","type":"quantitative","scale":{"domain":[-0.92,1.04],"nice":false,"zero":false},"axis":null}}},
{"data":{"name":"macd"},"transform":[{"filter":"isValid(datum.s)"}],"mark":{"type":"point","filled":true,"size":7,"opacity":1},"encoding":{"x":{"field":"i","type":"quantitative","scale":{"domain":[-3.906,42.824],"nice":false,"zero":false},"axis":null},"y":{"field":"s","type":"quantitative","scale":{"domain":[-0.92,1.04],"nice":false,"zero":false},"axis":null},"color":{"field":"sd","type":"nominal","scale":{"domain":["dn","up"],"range":["#ff3030","#20b8c8"]},"legend":null}}},
{"data":{"values":[{"i":-3.85,"v":0.95,"t":"fuuta_Macd 56.6925   -0.1490"}]},"mark":{"type":"text","align":"left","baseline":"middle","font":"Liberation Sans","fontSize":7,"color":"#d0d0d0"},"encoding":{"x":{"field":"i","type":"quantitative","scale":{"domain":[-3.906,42.824],"nice":false,"zero":false},"axis":null},"y":{"field":"v","type":"quantitative","scale":{"domain":[-0.92,1.04],"nice":false,"zero":false},"axis":null},"text":{"field":"t"}}},
{"data":{"values":[{"v":-0.92}]},"mark":{"type":"rule","color":"#c0c0c0","strokeWidth":3,"yOffset":2},"encoding":{"y":{"field":"v","type":"quantitative","scale":{"domain":[-0.92,1.04],"nice":false,"zero":false},"axis":null}}}
]
},
{
"width":993,"height":28,
"layer":[
{"data":{"name":"tl"},"mark":{"type":"text","align":"center","baseline":"middle","font":"Noto Sans CJK JP","fontSize":8.5,"color":"#c8c8c8","clip":true},"encoding":{"x":{"field":"i","type":"quantitative","scale":{"domain":[-3.906,42.824],"nice":false,"zero":false},"axis":null},"y":{"datum":1.533,"type":"quantitative","scale":{"domain":[-0.133,1.733],"nice":false,"zero":false},"axis":{"orient":"right","values":[0,1],"format":"d"}},"text":{"value":"07:00"}}},
{"data":{"name":"tl"},"mark":{"type":"text","align":"center","baseline":"middle","font":"Noto Sans CJK JP","fontSize":8.5,"color":"#c8c8c8","clip":true},"encoding":{"x":{"field":"i","type":"quantitative","scale":{"domain":[-3.906,42.824],"nice":false,"zero":false},"axis":null},"y":{"datum":0.967,"type":"quantitative","scale":{"domain":[-0.133,1.733],"nice":false,"zero":false},"axis":null},"text":{"field":"d"}}},
{"data":{"name":"dl"},"mark":{"type":"rule","color":"#a0a0a0","strokeWidth":1},"encoding":{"x":{"field":"i","type":"quantitative","scale":{"domain":[-3.906,42.824],"nice":false,"zero":false},"axis":null},"y":{"datum":0.5,"type":"quantitative","scale":{"domain":[-0.133,1.733],"nice":false,"zero":false},"axis":null},"y2":{"datum":0.33}}},
{"data":{"name":"dl"},"mark":{"type":"text","align":"left","baseline":"middle","dx":1,"font":"Liberation Sans","fontSize":6.5,"color":"#c8c8c8","clip":true},"encoding":{"x":{"field":"i","type":"quantitative","scale":{"domain":[-3.906,42.824],"nice":false,"zero":false},"axis":null},"y":{"datum":0.167,"type":"quantitative","scale":{"domain":[-0.133,1.733],"nice":false,"zero":false},"axis":null},"text":{"field":"d"}}}
]
}
]
}
